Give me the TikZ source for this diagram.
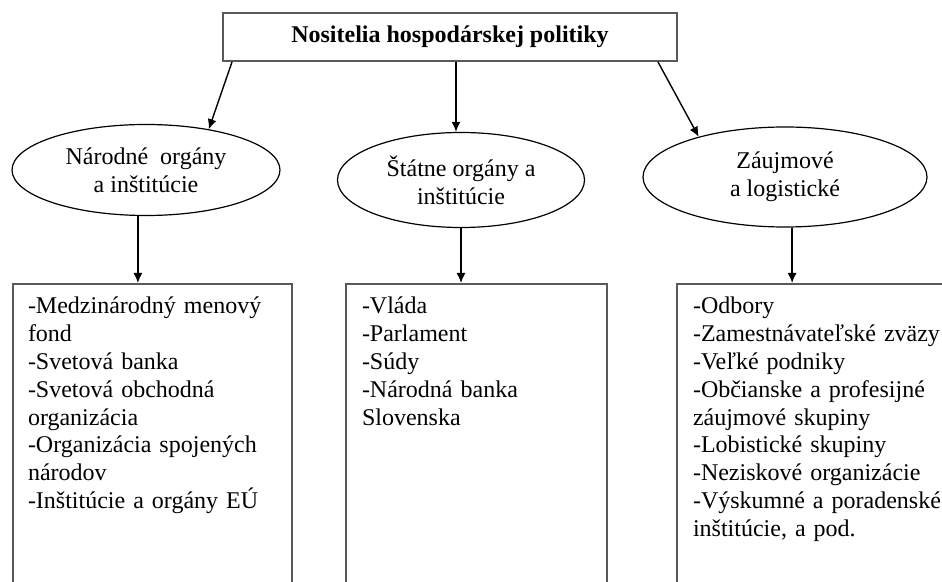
\documentclass[tikz,border=0pt]{standalone}
\usepackage{fontspec}
\setmainfont{Liberation Serif}
\usetikzlibrary{shapes.geometric,arrows.meta}

\begin{document}
\begin{tikzpicture}[x=0.5pt,y=-0.5pt]
  \tikzstyle{every node}=[font=\fontsize{12}{13.9}\selectfont]
  \tikzstyle{skupina}=[ellipse,draw,line width=0.6pt,inner sep=0pt,align=center]
  \tikzstyle{zoznam}=[draw=black!65,line width=1pt,anchor=north,align=left,inner xsep=8pt,inner ysep=6pt,text height=9pt,text depth=200pt]
  \tikzstyle{sipka}=[-{Latex[length=5pt,width=4.5pt]},line width=0.7pt]
  \useasboundingbox (0,0) rectangle (942,582);
  \clip (0,0) rectangle (942,582);
  \node (nos) [draw=black!65,line width=1pt,minimum width=227pt,minimum height=24pt,inner sep=0pt] at (450,37) {\textbf{Nositelia hospodárskej politiky}};
  \node (n1) [skupina,minimum width=134pt,minimum height=45.5pt] at (146,170) {Národné\ \ orgány\\a inštitúcie};
  \node (n2) [skupina,minimum width=123.5pt,minimum height=47.5pt] at (461,180) {Štátne orgány a\\inštitúcie};
  \node (n3) [skupina,minimum width=142pt,minimum height=50pt] at (785,177) {Záujmové\\a logistické};
  \node (z1) [zoznam,text width=124.5pt,inner xsep=7.5pt] at (152.5,283) {-Medzinárodný menový\\fond\\-Svetová banka\\-Svetová obchodná\\organizácia\\-Organizácia spojených\\národov\\-Inštitúcie a orgány EÚ};
  \node (z2) [zoznam,text width=114.5pt] at (476.5,283) {-Vláda\\-Parlament\\-Súdy\\-Národná banka\\Slovenska};
  \node (z3) [zoznam,text width=129pt] at (822,283) {-Odbory\\-Zamestnávateľské zväzy\\-Veľké podniky\\-Občianske a profesijné\\záujmové skupiny\\-Lobistické skupiny\\-Neziskové organizácie\\-Výskumné a poradenské\\inštitúcie, a pod.};
  \draw [sipka] ([xshift=5pt]nos.south west) -- (n1.33);
  \draw [sipka] ([xshift=3pt]nos.south) -- ([xshift=3pt]nos.south |- n2.north);
  \draw [sipka] ([xshift=-10pt]nos.south east) -- (n3.155);
  \draw [sipka] (n1.260) -- (n1.260 |- z1.north);
  \draw [sipka] (n2.south) -- (n2.south |- z2.north);
  \draw [sipka] (n3.278) -- (n3.278 |- z3.north);
\end{tikzpicture}
\end{document}
